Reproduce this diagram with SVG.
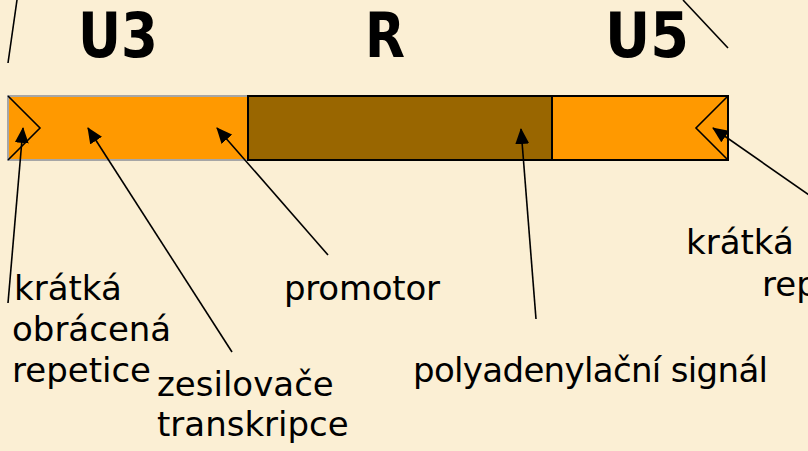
<svg xmlns="http://www.w3.org/2000/svg" width="808" height="451" viewBox="0 0 808 451">
<style>
.t{font-family:"Comic Sans MS","DejaVu Sans",sans-serif;font-size:34px;fill:#000}
.h{font-family:"Comic Sans MS","DejaVu Sans",sans-serif;font-size:62px;font-weight:bold;fill:#000}
.c{stroke:#000;stroke-width:1.6;fill:none}
</style>
<defs>
<marker id="ah" markerUnits="userSpaceOnUse" markerWidth="16" markerHeight="14" refX="15" refY="7" orient="auto">
<path d="M0,0 L16,7 L0,14 Z" fill="#000"/>
</marker>
</defs>
<rect width="808" height="451" fill="#FBEFD4"/>
<g id="U3">
<rect x="8" y="96" width="240" height="64" fill="#FF9900" stroke="#A6A6A6" stroke-width="2"/>
<polyline points="8,96 40,128 8,160" class="c"/>
<text class="h" x="78" y="57" textLength="80" lengthAdjust="spacingAndGlyphs">U3</text>
</g>
<g id="R">
<rect x="248" y="96" width="304" height="64" fill="#996600" stroke="#000" stroke-width="2"/>
<text class="h" x="365" y="57" textLength="40" lengthAdjust="spacingAndGlyphs">R</text>
</g>
<g id="U5">
<rect x="552" y="96" width="176" height="64" fill="#FF9900" stroke="#000" stroke-width="2"/>
<polyline points="728,96 696,128 728,160" class="c"/>
<text class="h" x="605" y="57" textLength="84" lengthAdjust="spacingAndGlyphs">U5</text>
</g>
<g id="labels">
<text class="t" x="14" y="300">krátká</text>
<text class="t" x="12" y="341">obrácená</text>
<text class="t" x="12" y="382">repetice</text>
<text class="t" x="157" y="396">zesilovače</text>
<text class="t" x="157" y="436">transkripce</text>
<text class="t" x="284" y="300" textLength="156">promotor</text>
<text class="t" x="413" y="382" textLength="355">polyadenylační signál</text>
<text class="t" x="686" y="254">krátká</text>
<text class="t" x="762" y="296">rep</text>
</g>
<g id="connectors">
<line x1="17" y1="0" x2="8" y2="63" class="c"/>
<line x1="683" y1="0" x2="728" y2="48" class="c"/>
<line x1="8" y1="303" x2="23" y2="128" class="c" marker-end="url(#ah)"/>
<line x1="232" y1="352" x2="88" y2="128" class="c" marker-end="url(#ah)"/>
<line x1="328" y1="255" x2="217" y2="128" class="c" marker-end="url(#ah)"/>
<line x1="536" y1="319" x2="521" y2="129" class="c" marker-end="url(#ah)"/>
<line x1="812" y1="197" x2="713" y2="128" class="c" marker-end="url(#ah)"/>
</g>
</svg>
